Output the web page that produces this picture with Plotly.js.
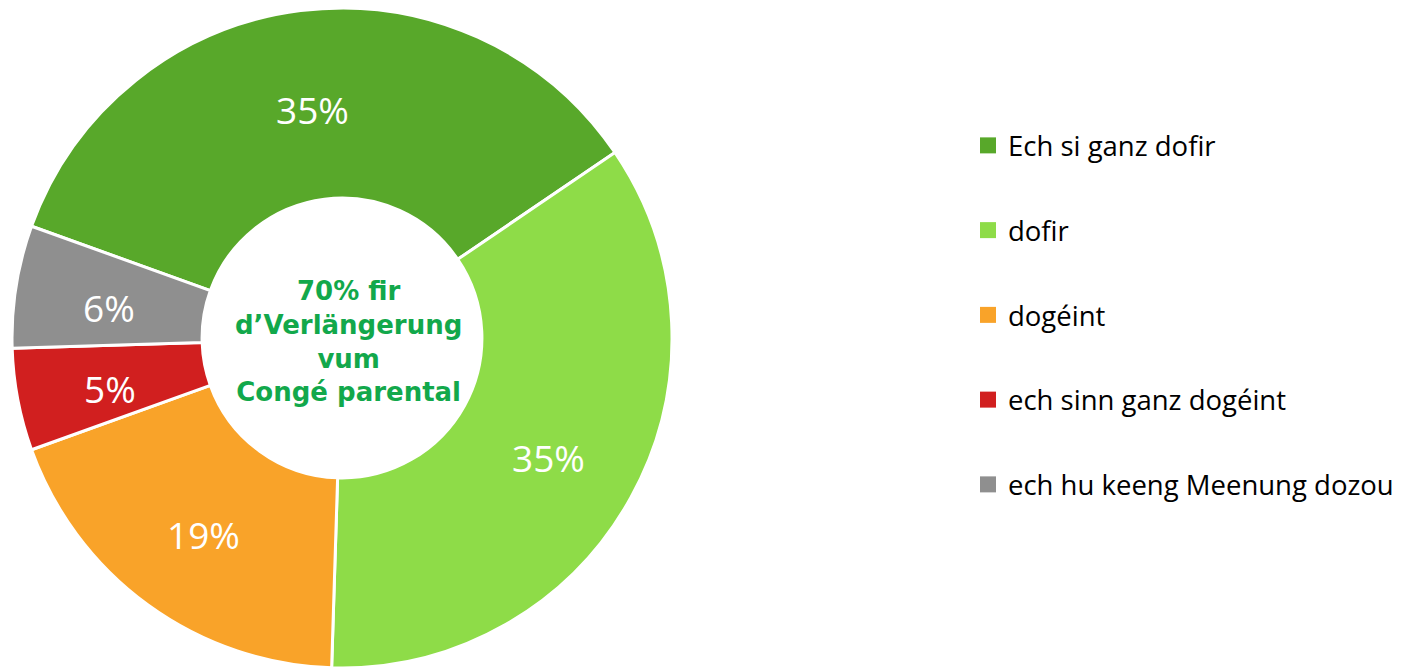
<!DOCTYPE html>
<html>
<head>
<meta charset="utf-8">
<script src="https://cdn.plot.ly/plotly-3.0.1.min.js"></script>
<style>html,body{margin:0;padding:0;background:#fff;}#chart{width:1401px;height:668px;}</style>
</head>
<body>
<div id="chart"></div>
<script>
const labels = ["Ech si ganz dofir", "dofir", "dogéint", "ech sinn ganz dogéint", "ech hu keeng Meenung dozou"];
const values = [35, 35, 19, 5, 6];
const colors = ["#58A82A", "#8EDC48", "#F9A329", "#D11F1F", "#8F8F8F"];
const centerText = "70% fir<br>d’Verlängerung<br>vum<br>Congé parental";

const W = 1401, H = 668;
const ROTATION = -70.2;
const domX = [12 / W, 672 / W], domY = [0, 660 / H];

const pie = {
  type: "pie",
  labels: labels,
  values: values,
  sort: false,
  direction: "clockwise",
  rotation: ROTATION,
  hole: 0.424,
  marker: {colors: colors, line: {color: "#ffffff", width: 3}},
  textinfo: "none",
  showlegend: false,
  hoverinfo: "label+percent",
  domain: {x: domX, y: domY}
};

// slice percentage labels placed at the middle of each ring segment, derived from the values
const total = values.reduce((a, b) => a + b, 0);
const cxPx = (domX[0] + domX[1]) / 2 * W;
const cyPx = H - (domY[0] + domY[1]) / 2 * H;
const R = Math.min((domX[1] - domX[0]) * W, (domY[1] - domY[0]) * H) / 2;
const rLab = R * 0.715;
let cum = 0;
const sliceLabels = values.map((v) => {
  const mid = (ROTATION + (cum + v / 2) / total * 360) * Math.PI / 180;
  cum += v;
  const px = cxPx + rLab * Math.sin(mid);
  const py = cyPx - rLab * Math.cos(mid);
  return {
    text: Math.round(v / total * 100) + "%",
    x: px / W, y: 1 - py / H,
    xref: "paper", yref: "paper",
    xanchor: "center", yanchor: "middle",
    yshift: -6,
    showarrow: false,
    font: {family: "Open Sans", size: 37, color: "#ffffff"}
  };
});

const legendTraces = labels.map((lab, i) => ({
  type: "scatter",
  mode: "markers",
  x: [null], y: [null],
  name: lab,
  legendgroup: "g" + i,
  marker: {symbol: "square", size: 17, color: colors[i]},
  showlegend: true,
  hoverinfo: "skip"
}));

const layout = {
  width: W, height: H,
  margin: {l: 0, r: 0, t: 0, b: 0},
  paper_bgcolor: "#ffffff",
  plot_bgcolor: "#ffffff",
  xaxis: {visible: false, domain: [0.7, 0.71]},
  yaxis: {visible: false, domain: [0.7, 0.71]},
  showlegend: true,
  legend: {
    x: 968 / W, xanchor: "left",
    y: 1 - 121 / H, yanchor: "top",
    traceorder: "grouped",
    tracegroupgap: 46,
    font: {family: "Open Sans", size: 27.5, color: "#000000"},
    bgcolor: "rgba(0,0,0,0)",
    itemclick: false, itemdoubleclick: false
  },
  annotations: [{
    text: centerText,
    x: 348 / W, y: 1 - 341 / H,
    xref: "paper", yref: "paper",
    xanchor: "center", yanchor: "middle",
    showarrow: false,
    font: {family: "DejaVu Sans", size: 26, color: "#12A84B", weight: "bold"},
    align: "center"
  }].concat(sliceLabels)
};

Plotly.newPlot("chart", [pie].concat(legendTraces), layout, {displayModeBar: false});
</script>
</body>
</html>
